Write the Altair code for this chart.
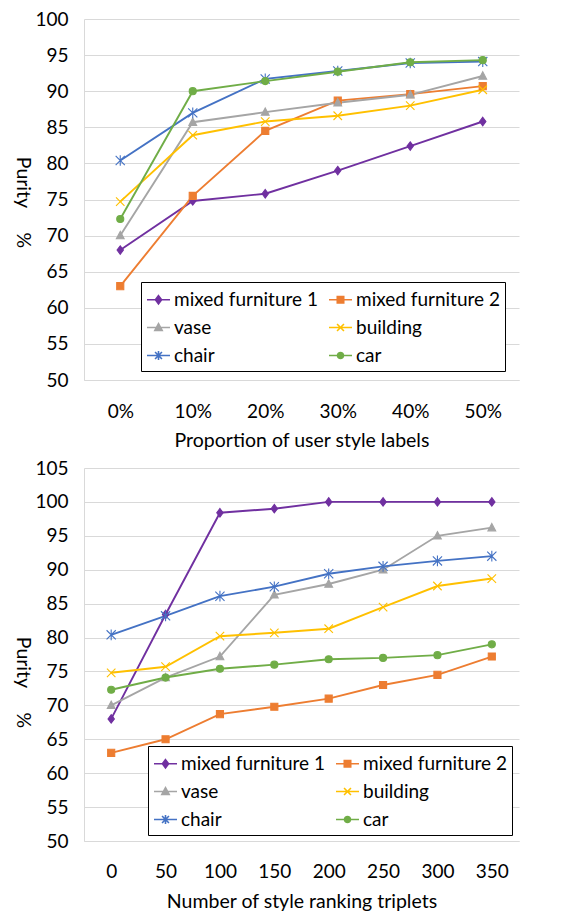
import altair as alt
import pandas as pd

series = ["mixed furniture 1", "mixed furniture 2", "vase", "building", "chair", "car"]
colors = ["#7030A0", "#ED7D31", "#A5A5A5", "#FFC000", "#4472C4", "#70AD47"]

# marker shapes (data points) and legend shapes (line + marker)
marker_paths = [
    "M0,-1.2L0.9,0L0,1.2L-0.9,0Z",
    "M-1,-1H1V1H-1Z",
    "M0,-1.2L1.1,0.9H-1.1Z",
    "M-1.2,-1.2L1.2,1.2M-1.2,1.2L1.2,-1.2",
    "M-1.3,-1.3L1.3,1.3M-1.3,1.3L1.3,-1.3M0,-1.5V1.5",
    "circle",
]
legend_paths = [
    "M-1,0H1M0,-0.36L0.27,0L0,0.36L-0.27,0Z",
    "M-1,0H1M-0.28,-0.28H0.28V0.28H-0.28Z",
    "M-1,0H1M0,-0.34L0.32,0.26H-0.32Z",
    "M-1,0H1M-0.3,-0.3L0.3,0.3M-0.3,0.3L0.3,-0.3",
    "M-1,0H1M-0.3,-0.3L0.3,0.3M-0.3,0.3L0.3,-0.3M0,-0.4V0.4",
    "M-1,0H1M-0.26,0A0.26,0.26,0,1,0,0.26,0A0.26,0.26,0,1,0,-0.26,0Z",
]

# top panel
top_x = ["0%", "10%", "20%", "30%", "40%", "50%"]
top_mf1 = [68.0, 74.8, 75.8, 79.0, 82.4, 85.8]
top_mf2 = [63.0, 75.5, 84.5, 88.7, 89.6, 90.7]
top_vase = [70.0, 85.7, 87.1, 88.4, 89.5, 92.1]
top_building = [74.7, 83.9, 85.8, 86.6, 88.0, 90.2]
top_chair = [80.4, 87.0, 91.7, 92.8, 93.9, 94.1]
top_car = [72.3, 90.0, 91.4, 92.7, 94.0, 94.3]

# bottom panel
bot_x = ["0", "50", "100", "150", "200", "250", "300", "350"]
bot_mf1 = [68.0, 83.4, 98.4, 99.0, 100.0, 100.0, 100.0, 100.0]
bot_mf2 = [63.0, 65.0, 68.7, 69.8, 71.0, 73.0, 74.5, 77.2]
bot_vase = [70.0, 74.1, 77.2, 86.3, 87.9, 90.0, 95.0, 96.2]
bot_building = [74.8, 75.7, 80.2, 80.7, 81.3, 84.5, 87.6, 88.7]
bot_chair = [80.4, 83.2, 86.1, 87.5, 89.4, 90.5, 91.3, 92.0]
bot_car = [72.3, 74.1, 75.4, 76.0, 76.8, 77.0, 77.4, 79.0]


def frame(xs, vals):
    rows = []
    for name, v in zip(series, vals):
        for i, (x, y) in enumerate(zip(xs, v)):
            rows.append({"series": name, "x": x, "i": i, "y": y})
    return pd.DataFrame(rows)


top_df = frame(top_x, [top_mf1, top_mf2, top_vase, top_building, top_chair, top_car])
bot_df = frame(bot_x, [bot_mf1, bot_mf2, bot_vase, bot_building, bot_chair, bot_car])

FONT = "Lato"
GRID = "#D9D9D9"


def panel(df, xs, xtitle, ymax, w, h, lx, ly, xlabpad, xtitlepad, ytitle_y):
    yvals = list(range(50, ymax + 1, 5))
    base = alt.Chart(df).encode(
        x=alt.X(
            "x:N",
            sort=xs,
            title=xtitle,
            scale=alt.Scale(type="point", padding=0.5),
            axis=alt.Axis(
                labelAngle=0, ticks=False, domain=True, domainColor=GRID,
                labelPadding=xlabpad, titlePadding=xtitlepad, grid=False,
            ),
        ),
        y=alt.Y(
            "y:Q",
            title="Purity\u00a0\u00a0\u00a0\u00a0\u00a0%",
            scale=alt.Scale(domain=[50, ymax], nice=False, zero=False),
            axis=alt.Axis(
                values=yvals, ticks=False, domain=True, domainColor=GRID,
                grid=True, gridColor=GRID, labelPadding=16, titlePadding=3,
                titleAngle=90, titleBaseline="top", titleY=ytitle_y,
            ),
        ),
        order=alt.Order("i:Q"),
    )
    lines = base.mark_line(strokeWidth=1.9, opacity=1).encode(
        color=alt.Color("series:N", scale=alt.Scale(domain=series, range=colors), legend=None)
    )
    points = base.mark_point(filled=True, opacity=1, size=50, strokeWidth=1.1).encode(
        fill=alt.Fill("series:N", scale=alt.Scale(domain=series, range=colors), legend=None),
        stroke=alt.Stroke("series:N", scale=alt.Scale(domain=series, range=colors), legend=None),
        shape=alt.Shape("series:N", scale=alt.Scale(domain=series, range=marker_paths), legend=None),
    )
    leg = alt.Legend(
        title=None, orient="none", legendX=lx, legendY=ly, columns=2, direction="horizontal",
        strokeColor="#000000", fillColor="#FFFFFF", padding=5,
        columnPadding=7, rowPadding=5, labelFontSize=19, labelFont=FONT,
        labelColor="#000000", labelOffset=3, symbolSize=529, symbolStrokeWidth=1.6,
        symbolOpacity=1, symbolLimit=0, labelLimit=300,
    )
    legend_layer = alt.Chart(df).transform_filter("false").mark_point(
        filled=True, opacity=1, strokeWidth=1.6
    ).encode(
        fill=alt.Fill("series:N", scale=alt.Scale(domain=series, range=colors), legend=leg),
        stroke=alt.Stroke("series:N", scale=alt.Scale(domain=series, range=colors), legend=leg),
        shape=alt.Shape("series:N", scale=alt.Scale(domain=series, range=legend_paths), legend=leg),
    )
    return alt.layer(lines, points, legend_layer).resolve_scale(
        color="independent", fill="independent", stroke="independent", shape="independent"
    ).properties(width=w, height=h)


top = panel(top_df, top_x, "Proportion of user style labels", 100, 435, 361, 57, 263, 22, 10, 183)
bot = panel(bot_df, bot_x, "Number of style ranking triplets", 105, 435, 373, 64, 278, 21, 11, 214)

chart = alt.vconcat(top, bot, spacing=9).resolve_scale(
    color="independent", fill="independent", stroke="independent", shape="independent"
).properties(
    padding={"left": 5, "top": 2, "right": 5, "bottom": 0}
).configure_view(
    stroke=None
).configure_axis(
    labelFont=FONT, titleFont=FONT, labelFontSize=19, titleFontSize=19.5,
    labelColor="#000000", titleColor="#000000", titleFontWeight="normal",
)

chart.save("out.html", embed_options={"renderer": "svg", "actions": False})
